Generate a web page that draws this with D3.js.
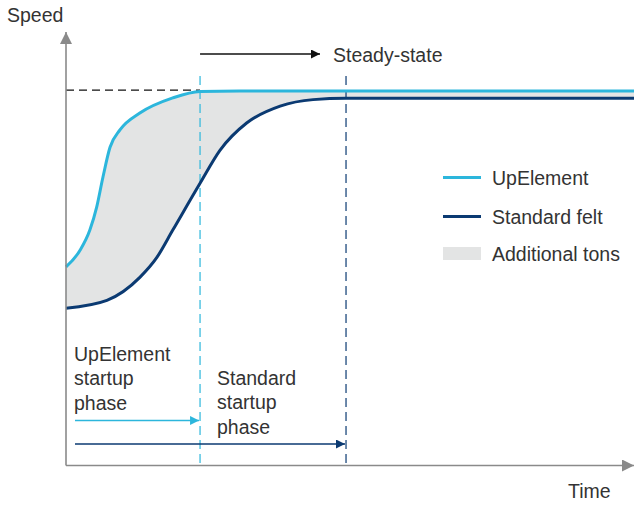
<!DOCTYPE html>
<html>
<head>
<meta charset="utf-8">
<script src="https://cdn.jsdelivr.net/npm/d3@7"></script>
<style>
  html, body { margin: 0; padding: 0; background: #fff; }
  svg { display: block; }
  text { font-family: "Liberation Sans", Arial, sans-serif; fill: #333; }
</style>
</head>
<body>
<div id="chart"></div>
<script>
// ---- Data (time 0..100, speed 0..100) ----
const upTime   = [0, 2.5, 4.2, 5.4, 6.5, 7.75, 9.5, 13.0, 18.8, 23.6, 30.6, 100];
const upSpeed  = [45.8, 49.7, 54.3, 59.6, 66.5, 73.4, 77.4, 81.3, 84.8, 86.3, 86.4, 86.4];
const stdTime  = [0, 7.2, 13.0, 16.0, 18.8, 23.6, 27.1, 31.8, 37.7, 43.5, 49.3, 100];
const stdSpeed = [36.3, 38.1, 43.4, 48.0, 54.3, 65.1, 72.7, 79.0, 82.9, 84.4, 84.7, 84.7];
const upSteadyTime = 23.6;    // end of UpElement startup phase
const stdSteadyTime = 49.3;   // end of Standard startup phase
const steadyLevel = 86.6;
const seriesNames = ["UpElement", "Standard felt", "Additional tons"];
const axisLabels = ["Speed", "Time"];
const phaseLabels = [["UpElement", "startup", "phase"], ["Standard", "startup", "phase"]];
const steadyLabel = "Steady-state";

// ---- Layout ----
const W = 634, H = 505;
const colUp = "#2cb6dc", colStd = "#0b3a72", colFill = "#e3e4e4", colAxis = "#8a8a8a";
const FS = 19.5;

const svg = d3.select("#chart").append("svg").attr("width", W).attr("height", H);
const x = d3.scaleLinear().domain([0, 100]).range([66, 634]);
const y = d3.scaleLinear().domain([0, 100]).range([465.5, 32]);

const up = upTime.map((t, i) => [t, upSpeed[i]]);
const std = stdTime.map((t, i) => [t, stdSpeed[i]]);

const line = d3.line().x(d => x(d[0])).y(d => y(d[1])).curve(d3.curveMonotoneX);

const defs = svg.append("defs");
function marker(id, color, w, h) {
  defs.append("marker").attr("id", id).attr("viewBox", "0 0 10 10")
    .attr("refX", 10).attr("refY", 5).attr("markerUnits", "userSpaceOnUse")
    .attr("markerWidth", w).attr("markerHeight", h).attr("orient", "auto")
    .append("path").attr("d", "M0,0L10,5L0,10Z").attr("fill", color);
}
marker("mBlack", "#111", 16, 9);
marker("mUp", colUp, 16, 9);
marker("mStd", colStd, 16, 9);
marker("mAxis", colAxis, 14, 12);

// area between curves
const areaPath = line(up) + "L" + line(std.slice().reverse()).slice(1) + "Z";
svg.append("path").attr("d", areaPath).attr("fill", colFill);

// dashed horizontal reference to steady level
svg.append("line").attr("x1", x(0)).attr("x2", x(upSteadyTime))
  .attr("y1", y(steadyLevel)).attr("y2", y(steadyLevel))
  .attr("stroke", "#111").attr("stroke-width", 1.2).attr("stroke-dasharray", "8,5");

// vertical dashed phase markers
svg.append("line").attr("x1", x(upSteadyTime)).attr("x2", x(upSteadyTime))
  .attr("y1", 76).attr("y2", y(0)).attr("stroke", colUp).attr("stroke-width", 1.2)
  .attr("stroke-dasharray", "9,5");
svg.append("line").attr("x1", x(stdSteadyTime)).attr("x2", x(stdSteadyTime))
  .attr("y1", 76).attr("y2", y(0)).attr("stroke", colStd).attr("stroke-width", 1.2)
  .attr("stroke-dasharray", "9,5");

// curves
svg.append("path").attr("d", line(std)).attr("fill", "none").attr("stroke", colStd).attr("stroke-width", 3);
svg.append("path").attr("d", line(up)).attr("fill", "none").attr("stroke", colUp).attr("stroke-width", 3);

// axes
svg.append("line").attr("x1", x(0)).attr("x2", x(0)).attr("y1", y(0)).attr("y2", 32)
  .attr("stroke", colAxis).attr("stroke-width", 1.6).attr("marker-end", "url(#mAxis)");
svg.append("line").attr("x1", x(0)).attr("x2", 634).attr("y1", y(0)).attr("y2", y(0))
  .attr("stroke", colAxis).attr("stroke-width", 1.6).attr("marker-end", "url(#mAxis)");

svg.append("text").attr("x", 7).attr("y", 22).attr("font-size", FS).text(axisLabels[0]);
svg.append("text").attr("x", 568).attr("y", 498).attr("font-size", FS).text(axisLabels[1]);

// steady-state arrow
svg.append("line").attr("x1", x(upSteadyTime)).attr("x2", 320).attr("y1", 54).attr("y2", 54)
  .attr("stroke", "#111").attr("stroke-width", 1.4).attr("marker-end", "url(#mBlack)");
svg.append("text").attr("x", 333).attr("y", 62).attr("font-size", FS).text(steadyLabel);

// legend
const lg = svg.append("g");
lg.append("line").attr("x1", 443).attr("x2", 481).attr("y1", 177.5).attr("y2", 177.5).attr("stroke", colUp).attr("stroke-width", 3);
lg.append("line").attr("x1", 443).attr("x2", 481).attr("y1", 216.5).attr("y2", 216.5).attr("stroke", colStd).attr("stroke-width", 3);
lg.append("rect").attr("x", 443).attr("y", 247).attr("width", 38).attr("height", 13).attr("fill", colFill);
[185, 224, 261].forEach((yy, i) => {
  lg.append("text").attr("x", 492).attr("y", yy).attr("font-size", FS).text(seriesNames[i]);
});

// phase labels
phaseLabels[0].forEach((s, i) => {
  svg.append("text").attr("x", 74).attr("y", 361 + i * 24.3).attr("font-size", FS).text(s);
});
phaseLabels[1].forEach((s, i) => {
  svg.append("text").attr("x", 217).attr("y", 385 + i * 24.3).attr("font-size", FS).text(s);
});

// phase arrows
svg.append("line").attr("x1", 75).attr("x2", x(upSteadyTime) - 1).attr("y1", 420.5).attr("y2", 420.5)
  .attr("stroke", colUp).attr("stroke-width", 1.6).attr("marker-end", "url(#mUp)");
svg.append("line").attr("x1", 75).attr("x2", x(stdSteadyTime) - 1).attr("y1", 444).attr("y2", 444)
  .attr("stroke", colStd).attr("stroke-width", 1.6).attr("marker-end", "url(#mStd)");
</script>
</body>
</html>
